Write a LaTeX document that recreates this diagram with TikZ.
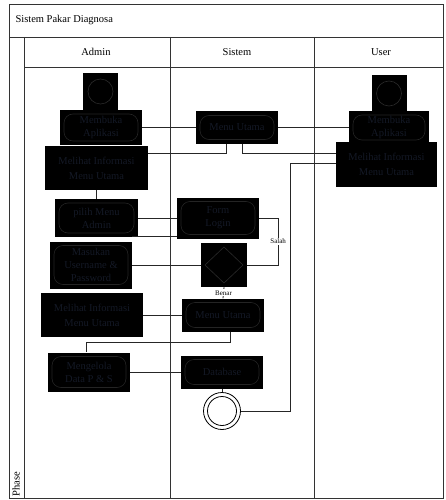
\documentclass[tikz,border=0pt]{standalone}
\usepackage{fontspec}
\setmainfont{Liberation Serif}
\definecolor{txtdark}{RGB}{20,25,38}
\tikzset{
  lane/.style={draw=black!80, line width=0.9pt},
  conn/.style={draw=black!85, line width=0.8pt},
  blk/.style 2 args={fill=black, inner sep=0pt, align=center, text=txtdark, minimum width=#1pt, minimum height=#2pt},
  act/.style 2 args={blk={#1}{#2}, path picture={\draw[draw=black!86, line width=0.6pt, rounded corners=9pt] ([shift={(4pt,4pt)}]path picture bounding box.south west) rectangle ([shift={(-4pt,-4pt)}]path picture bounding box.north east);}},
  startbox/.style={blk={35}{37}, path picture={\draw[draw=black!84, line width=0.6pt] (path picture bounding box.center) circle (12.5pt);}},
  decbox/.style={blk={46}{44}, path picture={\draw[draw=black!84, line width=0.6pt] ([yshift=-4pt]path picture bounding box.north) -- ([xshift=-4pt]path picture bounding box.east) -- ([yshift=4pt]path picture bounding box.south) -- ([xshift=4pt]path picture bounding box.west) -- cycle;}},
  endcirc/.style={circle, draw=black, line width=0.8pt, fill=white, minimum size=37pt, inner sep=0pt, path picture={\draw[line width=0.8pt] (path picture bounding box.center) circle (14.5pt);}},
  guard/.style={fill=white, inner sep=1pt, font=\fontsize{7}{8}\selectfont}
}
\begin{document}
\begin{tikzpicture}[x=1pt, y=-1pt, font=\fontsize{10.5}{13}\selectfont]
\useasboundingbox (0,0) rectangle (446,500);
% swimlane frame
\draw[lane] (9,4) rectangle (443,498);
\draw[lane] (9,37) -- (443,37);
\draw[lane] (24,37) -- (24,498);
\draw[lane] (24,67) -- (443,67);
\draw[lane] (170,37) -- (170,498);
\draw[lane] (314,37) -- (314,498);
\node[anchor=west] (title) at (12,20) {Sistem Pakar Diagnosa};
\node (hadmin) at (96,52) {Admin};
\node (hsistem) at (237,52) {Sistem};
\node (huser) at (381,52) {User};
\node[rotate=90] (phase) at (16,484) {Phase};

% Admin
\node[startbox] (as) at (100.5,91.5) {};
\node[act={82}{35}] (ma) at (101,127.5) {Membuka\\Aplikasi};
\node[blk={103}{44}] (mi1) at (96.5,168) {Melihat Informasi\\[2pt]Menu Utama};
\node[act={83}{38}] (pm) at (96.5,218) {pilih Menu\\Admin};
\node[act={82}{47}] (mu) at (91,265) {Masukan\\Username \&\\Password};
\node[blk={102}{44}] (mi2) at (92,315) {Melihat Informasi\\[2pt]Menu Utama};
\node[act={82}{39}] (md) at (89,372) {Mengelola\\Data P \& S};

% Sistem
\node[act={82}{32}] (su1) at (237,127.5) {Menu Utama};
\node[act={82}{41}] (fl) at (218,218) {Form\\Login};
\node[decbox] (dc) at (224,265) {};
\node[act={82}{33}] (su2) at (223,315) {Menu Utama};
\node[act={82}{33}] (db) at (222,372) {Database};
\node[endcirc] (fin) at (222,411) {};

% User
\node[startbox] (us) at (389,93.5) {};
\node[act={80}{33}] (ua) at (389,127.5) {Membuka\\Aplikasi};
\node[blk={101}{45}] (ui) at (386.5,164.5) {Melihat Informasi\\[2pt]Menu Utama};

% connectors
\coordinate (flx) at ([yshift=2pt]fl.south west);
\coordinate (uiin) at ([yshift=1.5pt]ui.west);
\draw[conn] (ma.east) -- (su1.west);
\draw[conn] (su1.east) -- (ua.west);
\draw[conn] ([xshift=-11pt]su1.south) |- ([yshift=15pt]mi1.east);
\draw[conn] ([xshift=5pt]su1.south) |- ([yshift=11.5pt]ui.west);
\draw[conn] (mi1.south) -- (pm.north);
\draw[conn] (pm.east) -- (fl.west);
\draw[conn] (flx) -- (flx -| mu.north east);
\draw[conn] (mu.east) -- (dc.west);
\draw[conn] (fl.east) -- ++(19,0) |- (dc.east) node[pos=0.25, guard] (salah) {Salah};
\draw[conn] (dc.south) -- (su2.north) node[midway, guard] (benar) {Benar};
\draw[conn] (mi2.east) -- (su2.west);
\draw[conn] ([xshift=7pt]su2.south) -- ++(0,11) -| ([xshift=-3pt]md.north);
\draw[conn] (md.east) -- (db.west);
\draw[conn] (db.south) -- (fin.north);
\draw[conn] (fin.east) -- (290,411) |- (uiin);
\end{tikzpicture}
\end{document}
